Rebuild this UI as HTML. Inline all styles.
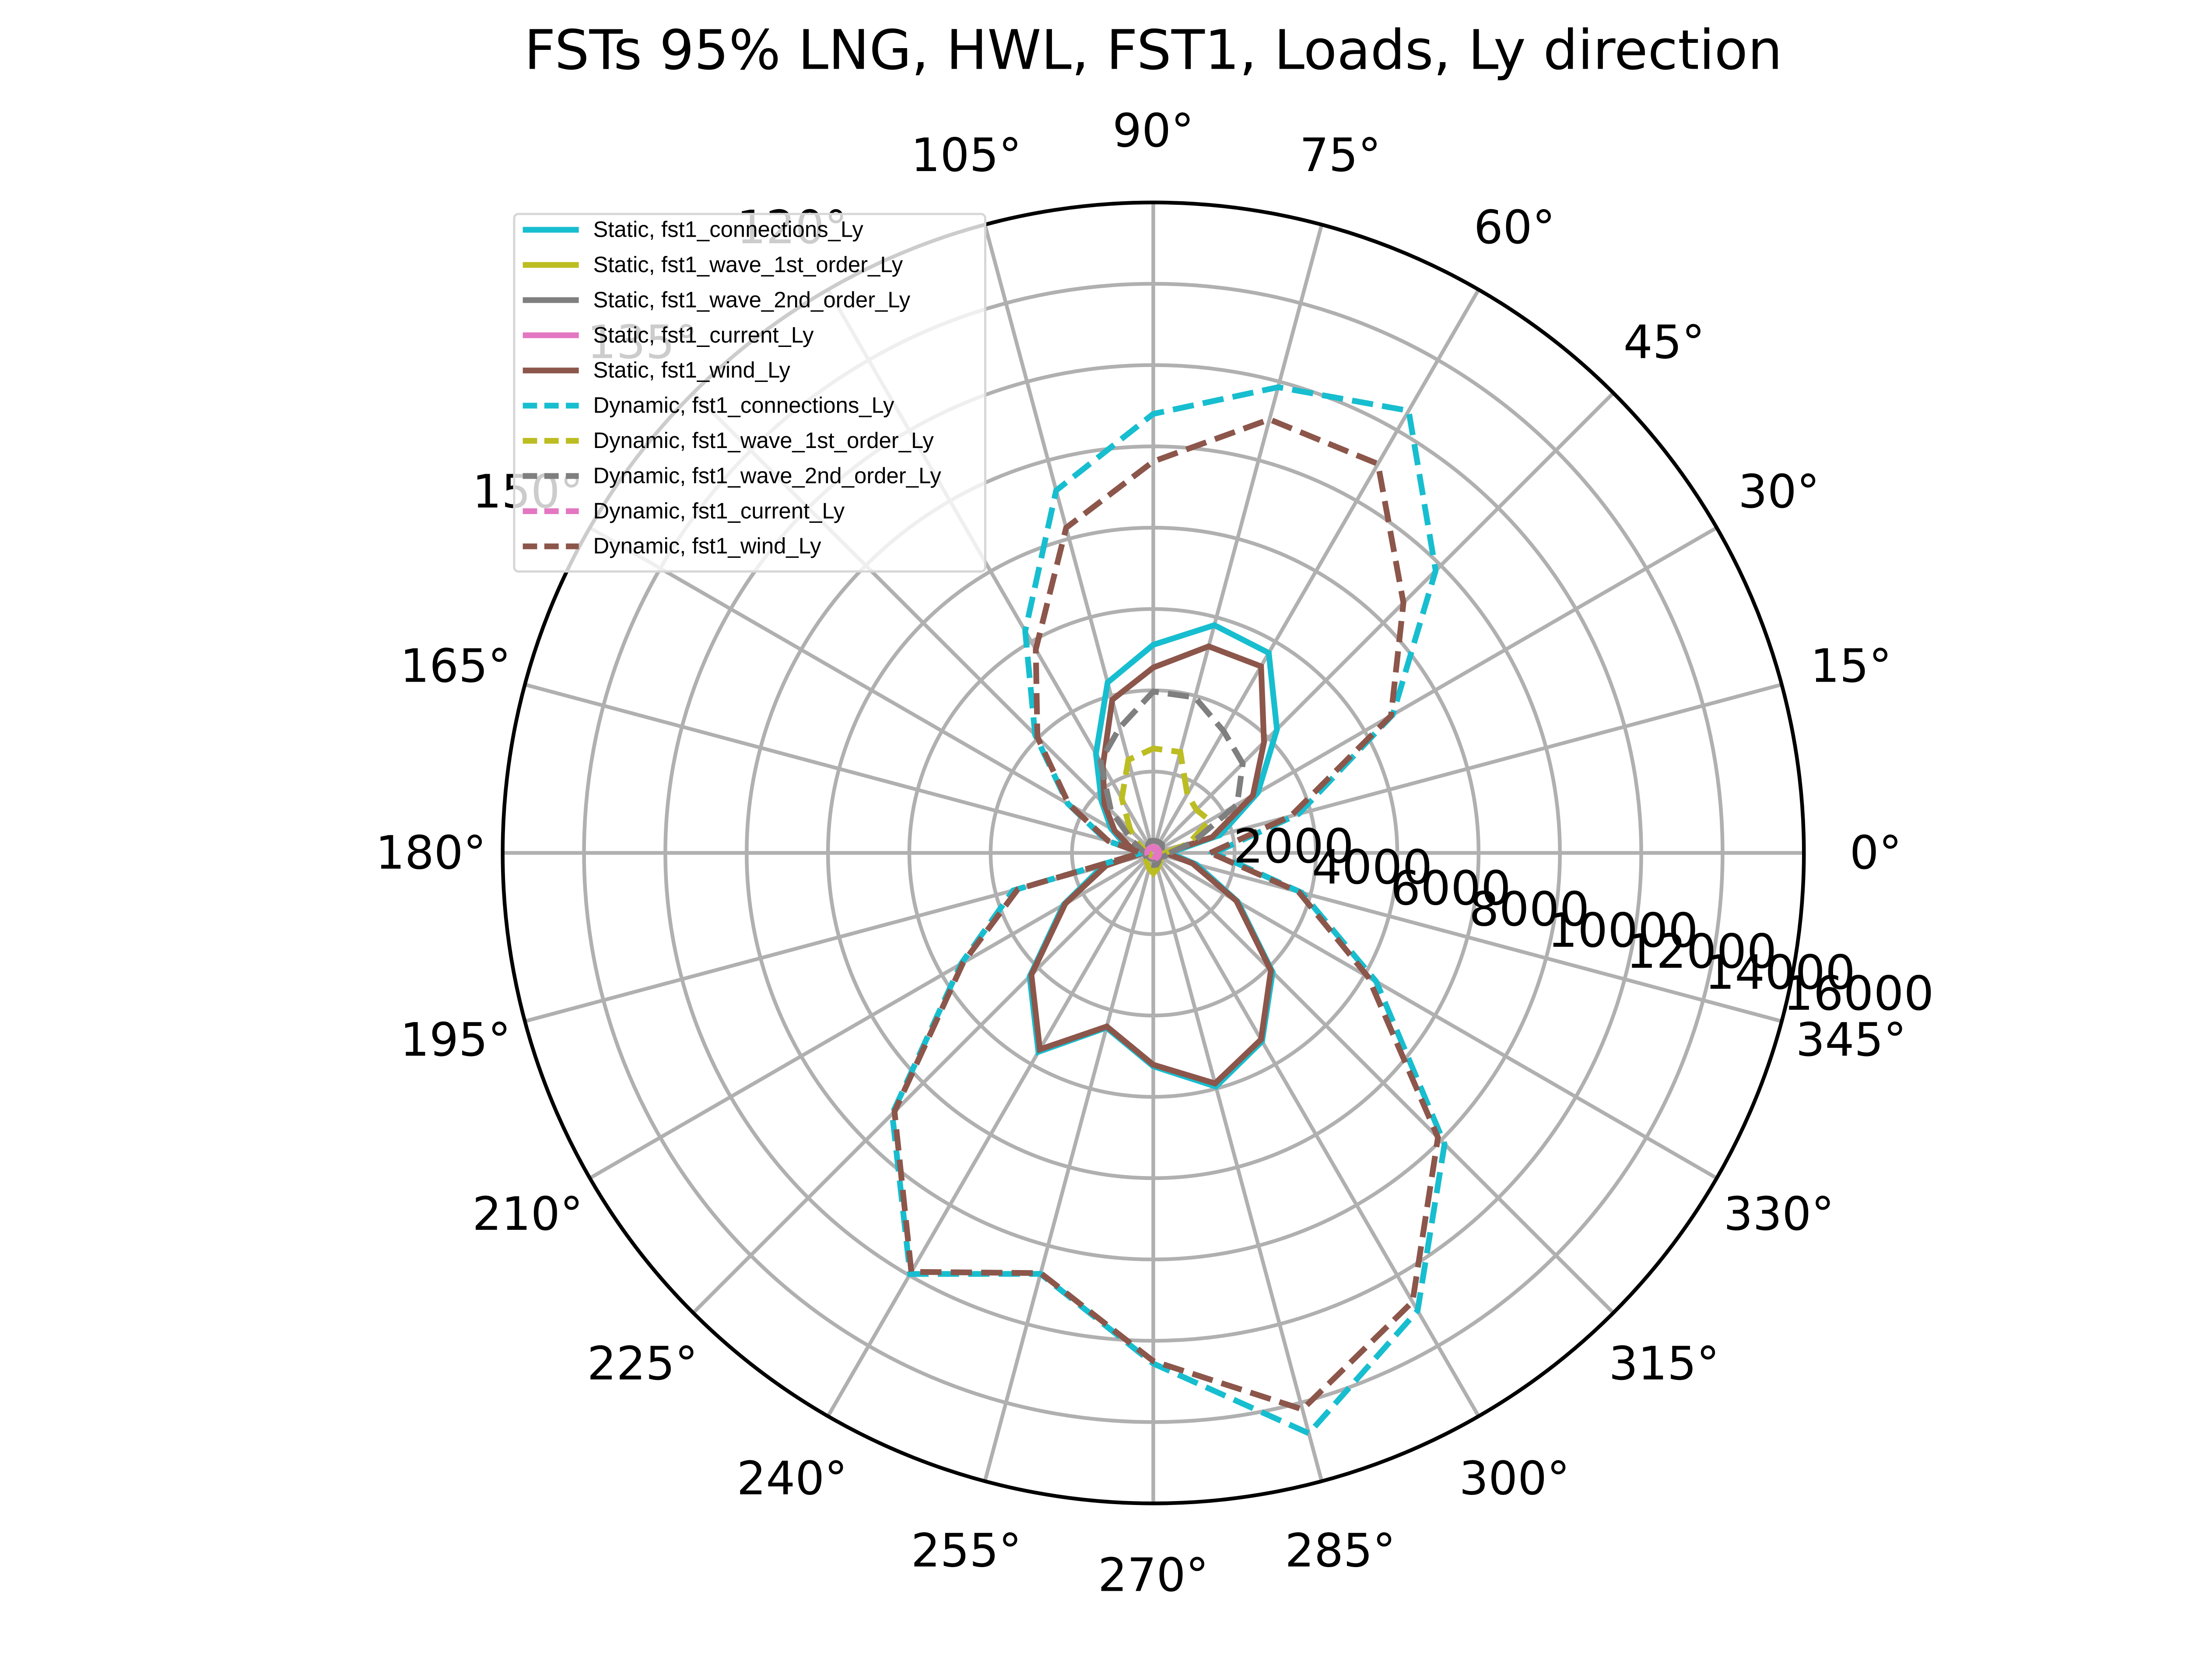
<!DOCTYPE html>
<html><head><meta charset="utf-8"><style>
html,body{margin:0;padding:0;background:#fff;}
svg{display:block;font-family:"DejaVu Sans","Liberation Sans",sans-serif;}
</style></head><body>
<svg id="chart" xmlns="http://www.w3.org/2000/svg" width="5120" height="3840" viewBox="0 0 1560 1170">
<rect width="1560" height="1170" fill="#fff"/>
<text x="803" y="48" font-size="38" text-anchor="middle">FSTs 95% LNG, HWL, FST1, Loads, Ly direction</text>
<g id="grid"></g>
<g id="series"></g>
<g id="labels"></g>
<g id="legend"></g>
</svg>
<script>
const angles = [0,15,30,45,60,75,90,105,120,135,150,165,180,195,210,225,240,255,270,285,300,315,330,345];
const rTicks = [2000,4000,6000,8000,10000,12000,14000,16000];
const rMax = 16000;
const staticConnections = [400,1700,2970,4300,5680,5800,5120,4340,2820,1800,1200,700,300,1300,2550,4300,5650,4450,5250,5950,5350,4150,2400,1100];
const staticWave1 = [150,200,250,300,300,300,300,300,250,200,150,100,100,150,200,250,300,400,500,400,300,250,200,150];
const staticWave2 = [150,200,250,300,300,300,300,300,250,200,150,150,150,150,150,150,150,150,150,150,150,150,150,150];
const staticCurrent = [100,100,100,100,100,100,100,100,100,100,100,100,100,100,100,100,100,100,100,100,100,100,100,100];
const staticWind = [300,1500,2830,3850,5300,5260,4560,3900,2480,1700,1100,600,250,1200,2500,4240,5580,4420,5210,5870,5300,4090,2360,1000];
const dynConnections = [1500,3700,6800,9820,12560,11860,10800,9230,6300,4110,2430,1200,300,3570,5460,9080,11960,10720,12560,14780,13000,10130,6330,3780];
const dynWave1 = [300,900,1600,1500,1670,2570,2570,2370,1550,800,400,200,100,100,100,200,300,400,500,400,300,200,100,150];
const dynWave2 = [400,1000,2380,3110,3460,3960,3970,3190,2600,1470,600,300,200,200,200,200,250,300,300,300,250,200,200,300];
const dynCurrent = [150,150,150,150,150,150,150,150,150,150,150,150,150,150,150,150,150,150,150,150,150,150,150,150];
const dynWind = [1400,3500,6750,8700,11050,11040,9630,8280,5780,4030,2400,1150,300,3450,5400,9000,11900,10700,12500,14170,12750,9900,6100,3700];

const NS="http://www.w3.org/2000/svg";
const cx=803, cy=594, R=453;
function rScale(v){return v/rMax*R;}
function px(a,v){return cx+rScale(v)*Math.cos(a*Math.PI/180);}
function py(a,v){return cy-rScale(v)*Math.sin(a*Math.PI/180);}
function mk(tag,parent){const e=document.createElementNS(NS,tag);parent.appendChild(e);return e;}

const grid=document.getElementById('grid');
rTicks.forEach((t,i)=>{
  const c=mk('circle',grid);
  
  
  c.setAttribute('cx',cx);c.setAttribute('cy',cy);c.setAttribute('r',rScale(t));
  c.setAttribute('fill','none');c.setAttribute('stroke',i===rTicks.length-1?'none':'#b0b0b0');c.setAttribute('stroke-width','2.6');
});
angles.forEach(a=>{
  const l=mk('line',grid);
  
  
  l.setAttribute('x1',cx);l.setAttribute('y1',cy);l.setAttribute('x2',px(a,rMax));l.setAttribute('y2',py(a,rMax));
  l.setAttribute('stroke','#b0b0b0');l.setAttribute('stroke-width','2.6');
});
const oc=mk('circle',grid);


oc.setAttribute('cx',cx);oc.setAttribute('cy',cy);oc.setAttribute('r',R);oc.setAttribute('fill','none');oc.setAttribute('stroke','#000');oc.setAttribute('stroke-width','2.6');

const series=[
 {n:'Static, fst1_connections_Ly',d:staticConnections,c:'#17becf',dash:false},
 {n:'Static, fst1_wave_1st_order_Ly',d:staticWave1,c:'#bcbd22',dash:false},
 {n:'Static, fst1_wave_2nd_order_Ly',d:staticWave2,c:'#7f7f7f',dash:false},
 {n:'Static, fst1_current_Ly',d:staticCurrent,c:'#e377c2',dash:false},
 {n:'Static, fst1_wind_Ly',d:staticWind,c:'#8c564b',dash:false},
 {n:'Dynamic, fst1_connections_Ly',d:dynConnections,c:'#17becf',dash:true},
 {n:'Dynamic, fst1_wave_1st_order_Ly',d:dynWave1,c:'#bcbd22',dash:true},
 {n:'Dynamic, fst1_wave_2nd_order_Ly',d:dynWave2,c:'#7f7f7f',dash:true},
 {n:'Dynamic, fst1_current_Ly',d:dynCurrent,c:'#e377c2',dash:true},
 {n:'Dynamic, fst1_wind_Ly',d:dynWind,c:'#8c564b',dash:true}
];
const sg=document.getElementById('series');
series.forEach(s=>{
  const p=mk('path',sg);
  
  
  let d='';
  angles.forEach((a,i)=>{d+=(i?'L':'M')+px(a,s.d[i]).toFixed(2)+','+py(a,s.d[i]).toFixed(2);});
  d+='Z';
  p.setAttribute('d',d);p.setAttribute('fill','none');p.setAttribute('stroke',s.c);p.setAttribute('stroke-width','4');
  p.setAttribute('stroke-linejoin','miter');
  if(s.dash)p.setAttribute('stroke-dasharray','14.8,6.4');
});

const lg=document.getElementById('labels');
angles.forEach(a=>{
  const t=mk('text',lg);
  
  
  const rr=R+50;
  t.setAttribute('x',cx+rr*Math.cos(a*Math.PI/180));
  t.setAttribute('y',cy-rr*Math.sin(a*Math.PI/180)+11);
  t.setAttribute('font-size','32');t.setAttribute('text-anchor','middle');
  t.textContent=a+'°';
});
rTicks.forEach(v=>{
  const t=mk('text',lg);
  
  
  t.setAttribute('x',px(-15,v)+1);
  t.setAttribute('y',py(-15,v)-8);
  t.setAttribute('font-size','33');t.setAttribute('text-anchor','start');
  t.textContent=v;
});

const leg=document.getElementById('legend');
const bx=mk('rect',leg);


bx.setAttribute('x',358);bx.setAttribute('y',149);bx.setAttribute('width',328);bx.setAttribute('height',249);bx.setAttribute('rx',3);
bx.setAttribute('fill','#fff');bx.setAttribute('fill-opacity','0.8');bx.setAttribute('stroke','#d6d6d6');bx.setAttribute('stroke-width','1.5');
series.forEach((s,i)=>{
  const y=160+i*24.5;
  const l=mk('line',leg);
  
  
  l.setAttribute('x1',364);l.setAttribute('x2',403);l.setAttribute('y1',y);l.setAttribute('y2',y);
  l.setAttribute('stroke',s.c);l.setAttribute('stroke-width','4');
  if(s.dash)l.setAttribute('stroke-dasharray','10,5');
  const t=mk('text',leg);
  
  
  t.setAttribute('x',413);t.setAttribute('y',y+5);t.setAttribute('font-size','15.5');
  t.setAttribute('font-family','"Liberation Sans",sans-serif');
  t.textContent=s.n;
});
</script>
</body></html>
